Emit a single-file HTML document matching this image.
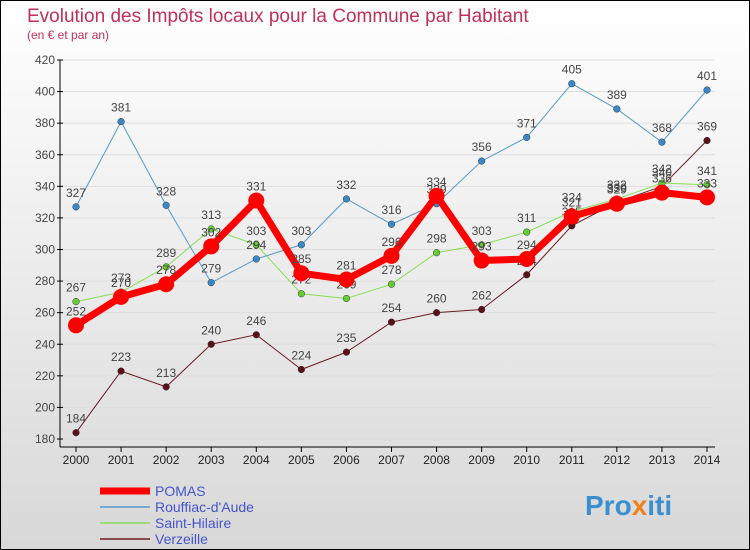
<!DOCTYPE html>
<html><head><meta charset="utf-8"><style>
body{margin:0}
#c{width:750px;height:550px;position:relative;box-sizing:border-box;border:1px solid #000;background:linear-gradient(#fff,#d8d8d8);font-family:"Liberation Sans",sans-serif;overflow:hidden}
</style></head><body>
<div id="c">
<svg id="s" width="750" height="550" style="position:absolute;left:-1px;top:-1px">
<text x="27" y="22" font-size="19" fill="#c0305a">Evolution des Impôts locaux pour la Commune par Habitant</text>
<text x="27" y="39" font-size="12" fill="#c0305a">(en € et par an)</text>
<text x="585" y="515" font-size="28" font-weight="bold" fill="#3a8fd0">Pro<tspan fill="#f08020">x</tspan>iti</text>
</svg>
</div>
<script>
const years=[2000,2001,2002,2003,2004,2005,2006,2007,2008,2009,2010,2011,2012,2013,2014];
const yTicks=[180,200,220,240,260,280,300,320,340,360,380,400,420];
const seriesNames=["POMAS","Rouffiac-d'Aude","Saint-Hilaire","Verzeille"];
const pomas=[252,270,278,302,331,285,281,296,334,293,294,321,329,336,333];
const rouffiac=[327,381,328,279,294,303,332,316,329,356,371,405,389,368,401];
const hilaire=[267,273,289,313,303,272,269,278,298,303,311,324,332,342,341];
const verzeille=[184,223,213,240,246,224,235,254,260,262,284,315,330,340,369];
const ns="http://www.w3.org/2000/svg",s=document.getElementById('s');
const X=i=>76+i*(631/14), Y=v=>60+(420-v)*(379/240);
function mk(t,a,p){const e=document.createElementNS(ns,t);for(const k in a)e.setAttribute(k,a[k]);(p||s).appendChild(e);return e;}
yTicks.forEach(v=>{
 const g=mk('line',{x1:60,x2:715,y1:Y(v),y2:Y(v),stroke:'#ddd','stroke-width':1});
 
 
 const t=mk('text',{x:55,y:Y(v)+4,'font-size':12,'text-anchor':'end',fill:'#444'});t.textContent=v;
 
 
 mk('line',{x1:57,x2:63,y1:Y(v),y2:Y(v),stroke:'#000'});
});
const ax=mk('line',{x1:60,x2:60,y1:60,y2:447,stroke:'#000'});


const bx=mk('line',{x1:60,x2:715,y1:447,y2:447,stroke:'#000'});


years.forEach((y,i)=>{
 const t=mk('text',{x:X(i),y:464,'font-size':12,'text-anchor':'middle',fill:'#222'});t.textContent=y;
 
 
 mk('line',{x1:X(i),x2:X(i),y1:447,y2:452,stroke:'#000'});
});
const defs=[[verzeille,'#6b1a22','#5a1018',1,5],[hilaire,'#88dd55','#66cc33',1,5],[rouffiac,'#5599cc','#3a88c8',1,5],[pomas,'#ff0000','#ff0000',7,8]];
const names=['verzeille','saint-hilaire','rouffiac','pomas'];
defs.forEach((d,k)=>{
 const g=mk('g',{});
 
 
 mk('polyline',{points:d[0].map((v,i)=>X(i)+','+Y(v)).join(' '),fill:'none',stroke:d[1],'stroke-width':d[3],'stroke-linejoin':'round'},g);
 d[0].forEach((v,i)=>{
  const c=mk('circle',{cx:X(i),cy:Y(v),r:d[4]/ (d[3]>1?1:1.5),fill:d[2],stroke:d[3]>1?'none':'#333','stroke-width':0.5},g);
  
  
  const t=mk('text',{x:X(i),y:Y(v)-10,'font-size':12,'text-anchor':'middle',fill:'#444'},g);t.textContent=v;
  
  
 });
});
const leg=[['#ff0000',7],['#5599cc',1.5],['#88dd55',1.5],['#6b1a22',1.5]];
seriesNames.forEach((n,i)=>{
 const y=491+i*16;
 const g=mk('g',{});
 
 
 mk('line',{x1:100,x2:150,y1:y,y2:y,stroke:leg[i][0],'stroke-width':leg[i][1]},g);
 const t=mk('text',{x:155,y:y+5,'font-size':14,fill:'#4455cc'},g);t.textContent=n;
});
</script>
</body></html>
